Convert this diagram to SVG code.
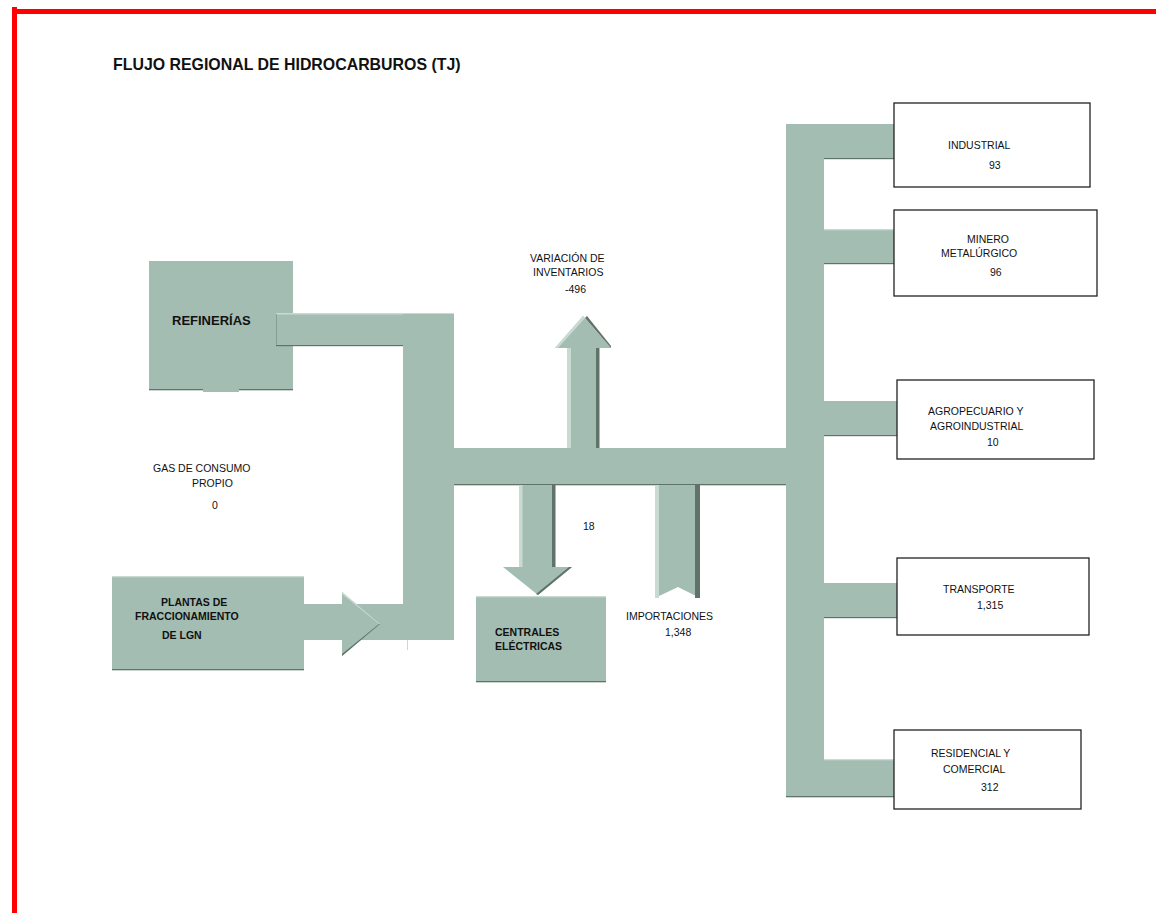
<svg xmlns="http://www.w3.org/2000/svg" width="1156" height="913" viewBox="0 0 1156 913">
<style>
.f{fill:#a3bdb3}
.dk{fill:#5f7369}
.lt{fill:#c9dad3}
.t{font-family:"Liberation Sans",Arial,sans-serif;font-size:10.5px;fill:#111}
.b{font-family:"Liberation Sans",Arial,sans-serif;font-weight:bold;fill:#111}
.box{fill:#fff;stroke:#222;stroke-width:1.3}
</style>
<rect width="1156" height="913" fill="#fff"/>
<rect x="12" y="9" width="1144" height="5" fill="#f00"/>
<rect x="12" y="7" width="5" height="906" fill="#f00"/>
<text class="b" x="113" y="70" font-size="15.9">FLUJO REGIONAL DE HIDROCARBUROS (TJ)</text>

<g id="refinerias">
<rect class="f" x="149" y="261" width="144" height="129"/>
<rect class="f" x="203" y="388" width="36" height="4"/>
<rect class="dk" x="149" y="389" width="54" height="1.3"/>
<rect class="dk" x="239" y="389" width="54" height="1.3"/>
<text class="b" x="172" y="325" font-size="13">REFINERÍAS</text>
</g>

<g id="plantas">
<rect class="f" x="112" y="577" width="192" height="93"/>
<rect class="lt" x="112" y="576" width="192" height="1.3"/>
<rect class="dk" x="112" y="669" width="192" height="1.3"/>
<text class="b" x="161" y="606" font-size="10.5">PLANTAS DE</text>
<text class="b" x="135" y="620" font-size="10.5">FRACCIONAMIENTO</text>
<text class="b" x="162" y="639" font-size="10.5">DE LGN</text>
</g>

<g id="connectors">
<!-- refinerias pipe -->
<rect class="f" x="276" y="314" width="178" height="32"/>
<rect class="lt" x="276" y="313" width="178" height="1.5"/>
<rect class="dk" x="276" y="345" width="127" height="1.2"/>
<rect class="dk" x="276" y="314" width="1" height="32" opacity="0.4"/>
<rect class="f" x="403" y="314" width="51" height="326"/>
<!-- plantas arrow -->
<rect class="f" x="304" y="604" width="100" height="36"/>
<polygon class="f" points="342,592 380,624 342,656"/>
<polygon class="lt" points="342,592 380,624 379,624 342,594"/>
<polygon class="dk" points="342,656 380,624 379,624 342,654"/>
<rect class="lt" x="407" y="640" width="1" height="10"/>
<!-- main horizontal -->
<rect class="f" x="454" y="448" width="332" height="37"/>
<rect class="dk" x="454" y="484" width="332" height="1.3"/>
<!-- right trunk -->
<rect class="f" x="786" y="124" width="38" height="673"/>
<rect class="f" x="824" y="124" width="70" height="35"/>
<rect class="dk" x="824" y="158" width="70" height="1.2"/>
<rect class="f" x="824" y="230" width="70" height="34"/>
<rect class="lt" x="824" y="229" width="70" height="1.3"/>
<rect class="dk" x="824" y="263" width="70" height="1.2"/>
<rect class="f" x="824" y="401" width="73" height="35"/>
<rect class="dk" x="824" y="435" width="73" height="1.2"/>
<rect class="f" x="824" y="583" width="73" height="35"/>
<rect class="dk" x="824" y="617" width="73" height="1.2"/>
<rect class="f" x="824" y="760" width="70" height="37"/>
<rect class="lt" x="824" y="759" width="70" height="1.3"/>
<rect class="dk" x="786" y="796" width="108" height="1.3"/>
<!-- variacion up arrow -->
<rect class="f" x="567" y="348" width="32" height="100"/>
<rect class="lt" x="567" y="348" width="4" height="100"/>
<rect class="dk" x="596" y="348" width="3.5" height="100"/>
<polygon class="f" points="555,348 583,316 611,348"/>
<polygon class="lt" points="555,348 583,316 585,318 558,348"/>
<polygon class="dk" points="611,348 585,318 587,316 611,346"/>
<!-- down arrow to centrales -->
<rect class="f" x="519" y="485" width="36" height="82"/>
<rect class="lt" x="519" y="485" width="3.5" height="82"/>
<rect class="dk" x="552" y="485" width="3.5" height="82"/>
<polygon class="f" points="503,567 572,567 538,595"/>
<polygon class="dk" points="572,567 538,595 536,594 569,567"/>
<!-- importaciones ribbon -->
<polygon class="f" points="655,485 700,485 700,598 678,587 655,598"/>
<rect class="lt" x="655" y="485" width="4" height="113"/>
<rect class="dk" x="695" y="485" width="5" height="113"/>
</g>

<g id="gas-consumo">
<text class="t" x="153" y="472">GAS DE CONSUMO</text>
<text class="t" x="192" y="487">PROPIO</text>
<text class="t" x="212" y="509">0</text>
</g>

<g id="variacion">
<text class="t" x="530" y="262">VARIACIÓN DE</text>
<text class="t" x="533" y="276">INVENTARIOS</text>
<text class="t" x="565" y="293">-496</text>
</g>

<g id="centrales">
<rect class="f" x="476" y="597" width="130" height="85"/>
<rect class="lt" x="476" y="596" width="130" height="1.3"/>
<rect class="dk" x="476" y="681" width="130" height="1.3"/>
<text class="b" x="495" y="636" font-size="10.5">CENTRALES</text>
<text class="b" x="495" y="650" font-size="10.5">ELÉCTRICAS</text>
<text class="t" x="583" y="530">18</text>
</g>

<g id="importaciones">
<text class="t" x="626" y="620">IMPORTACIONES</text>
<text class="t" x="665" y="636">1,348</text>
</g>

<g id="industrial">
<rect class="box" x="894" y="103" width="196" height="84"/>
<text class="t" x="948" y="149">INDUSTRIAL</text>
<text class="t" x="989" y="169">93</text>
</g>

<g id="minero">
<rect class="box" x="894" y="210" width="203" height="86"/>
<text class="t" x="967" y="243">MINERO</text>
<text class="t" x="941" y="257">METALÚRGICO</text>
<text class="t" x="990" y="276">96</text>
</g>

<g id="agropecuario">
<rect class="box" x="897" y="380" width="197" height="79"/>
<text class="t" x="928" y="415">AGROPECUARIO Y</text>
<text class="t" x="930" y="430">AGROINDUSTRIAL</text>
<text class="t" x="987" y="446">10</text>
</g>

<g id="transporte">
<rect class="box" x="897" y="558" width="192" height="77"/>
<text class="t" x="943" y="593">TRANSPORTE</text>
<text class="t" x="977" y="609">1,315</text>
</g>

<g id="residencial">
<rect class="box" x="894" y="730" width="187" height="79"/>
<text class="t" x="931" y="757">RESIDENCIAL Y</text>
<text class="t" x="943" y="773">COMERCIAL</text>
<text class="t" x="981" y="791">312</text>
</g>
</svg>
